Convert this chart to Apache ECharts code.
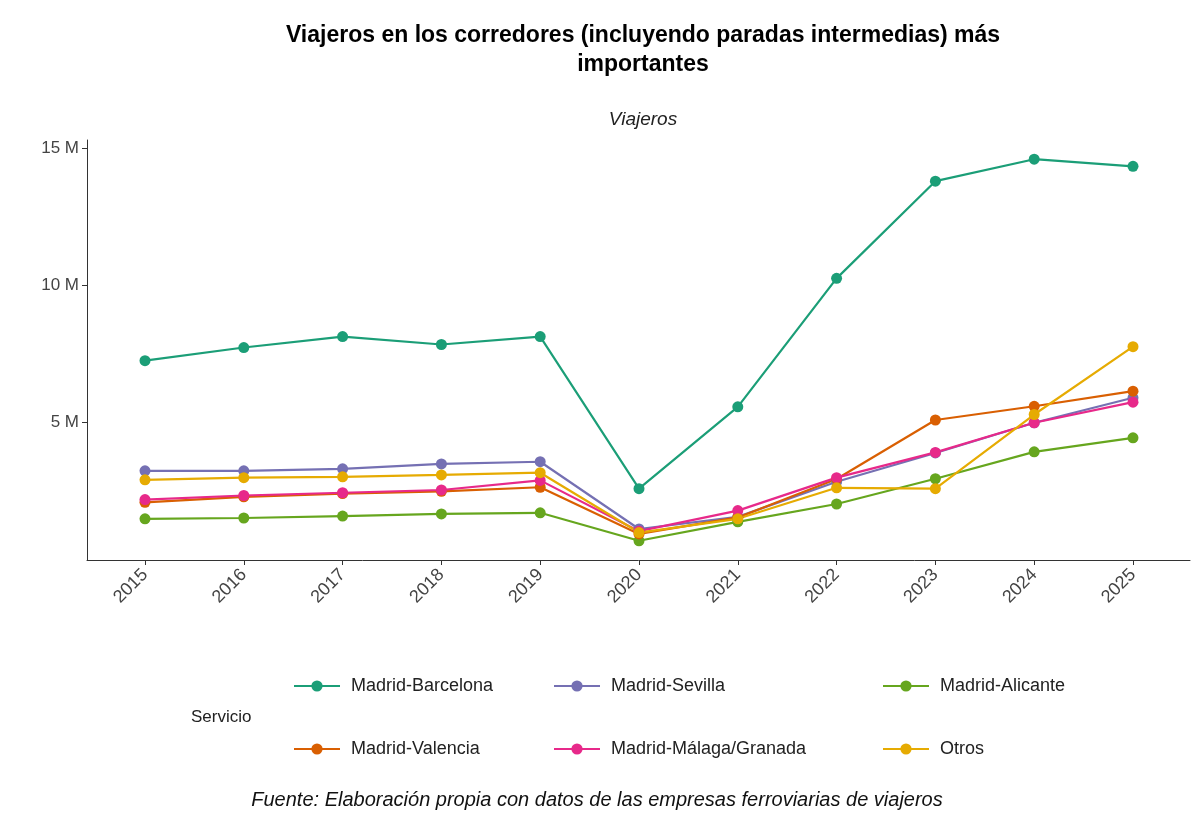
<!DOCTYPE html>
<html>
<head>
<meta charset="utf-8">
<script src="https://cdn.jsdelivr.net/npm/echarts@6/dist/echarts.min.js"></script>
<style>html,body{margin:0;background:#fff}#c{width:1200px;height:827px}</style>
</head>
<body>
<div id="c"></div>
<script>
var years = [2015, 2016, 2017, 2018, 2019, 2020, 2021, 2022, 2023, 2024, 2025];
var yTicks = [5, 10, 15];
var names = ['Madrid-Barcelona', 'Madrid-Sevilla', 'Madrid-Alicante', 'Madrid-Valencia', 'Madrid-Málaga/Granada', 'Otros'];
var colors = ['#1B9E77', '#7570B3', '#66A61E', '#D95F02', '#E7298A', '#E6AB02'];
// millones de viajeros
var barcelona = [7.26, 7.74, 8.14, 7.85, 8.14, 2.6, 5.58, 10.26, 13.8, 14.6, 14.34];
var sevilla = [3.25, 3.25, 3.32, 3.5, 3.58, 1.13, 1.57, 2.85, 3.9, 5.0, 5.91];
var alicante = [1.5, 1.53, 1.6, 1.68, 1.72, 0.7, 1.39, 2.04, 2.96, 3.94, 4.45];
var valencia = [2.1, 2.3, 2.42, 2.5, 2.65, 0.95, 1.55, 2.95, 5.1, 5.6, 6.15];
var malaga = [2.2, 2.35, 2.45, 2.55, 2.9, 1.05, 1.8, 3.0, 3.92, 5.0, 5.75];
var otros = [2.92, 3.0, 3.03, 3.1, 3.18, 1.0, 1.5, 2.63, 2.6, 5.3, 7.77];
var allData = [barcelona, sevilla, alicante, valencia, malaga, otros];

var legendPos = [[288, 672], [548, 672], [877, 672], [288, 735], [548, 735], [877, 735]];
var txt = { fontFamily: 'Liberation Sans, Arial', fontSize: 18, color: '#222', padding: [0, 0, 0, 6] };

var chart = echarts.init(document.getElementById('c'));
chart.setOption({
    animation: false,
    color: colors,
    title: [
        { text: 'Viajeros en los corredores (incluyendo paradas intermedias) más\nimportantes', left: 638, top: 16, textAlign: 'center',
          textStyle: { fontFamily: 'Liberation Sans, Arial', fontSize: 23, fontWeight: 'bold', color: '#000', lineHeight: 29 } },
        { text: 'Viajeros', left: 638, top: 105, textAlign: 'center',
          textStyle: { fontFamily: 'Liberation Sans, Arial', fontSize: 19, fontStyle: 'italic', fontWeight: 'normal', color: '#222' } },
        { text: 'Fuente: Elaboración propia con datos de las empresas ferroviarias de viajeros', left: 592, top: 785, textAlign: 'center',
          textStyle: { fontFamily: 'Liberation Sans, Arial', fontSize: 20, fontStyle: 'italic', fontWeight: 'normal', color: '#111' } },
        { text: 'Servicio', left: 186, top: 704, textStyle: { fontFamily: 'Liberation Sans, Arial', fontSize: 17, fontWeight: 'normal', color: '#222' } }
    ],
    legend: names.map(function(n, i) {
        return { data: [n], left: legendPos[i][0], top: legendPos[i][1], itemWidth: 46, itemHeight: 14, itemGap: 0, textStyle: txt };
    }),
    grid: { left: 87, right: 10, top: 140, bottom: 267 },
    xAxis: {
        type: 'value', min: 2014.413, max: 2025.577,
        axisLine: { lineStyle: { color: '#333' } },
        axisTick: { show: true, customValues: years, length: 5, lineStyle: { color: '#333' } },
        axisLabel: { customValues: years, rotate: 45, color: '#444', fontSize: 18, fontFamily: 'Liberation Sans, Arial', margin: 12,
            formatter: function(v) { return String(v); } },
        splitLine: { show: false }
    },
    yAxis: {
        type: 'value', min: 0, max: 15.3,
        axisLine: { show: true, lineStyle: { color: '#333' } },
        axisTick: { show: true, customValues: yTicks, length: 5, lineStyle: { color: '#333' } },
        axisLabel: { customValues: yTicks, color: '#444', fontSize: 17, fontFamily: 'Liberation Sans, Arial',
            formatter: function(v) { return v + ' M'; } },
        splitLine: { show: false }
    },
    series: names.map(function(n, i) {
        return {
            name: n, type: 'line', symbol: 'circle', symbolSize: 11,
            lineStyle: { width: 2.2 }, itemStyle: { color: colors[i] },
            data: years.map(function(y, j) { return [y, allData[i][j]]; })
        };
    })
});
</script>
</body>
</html>
